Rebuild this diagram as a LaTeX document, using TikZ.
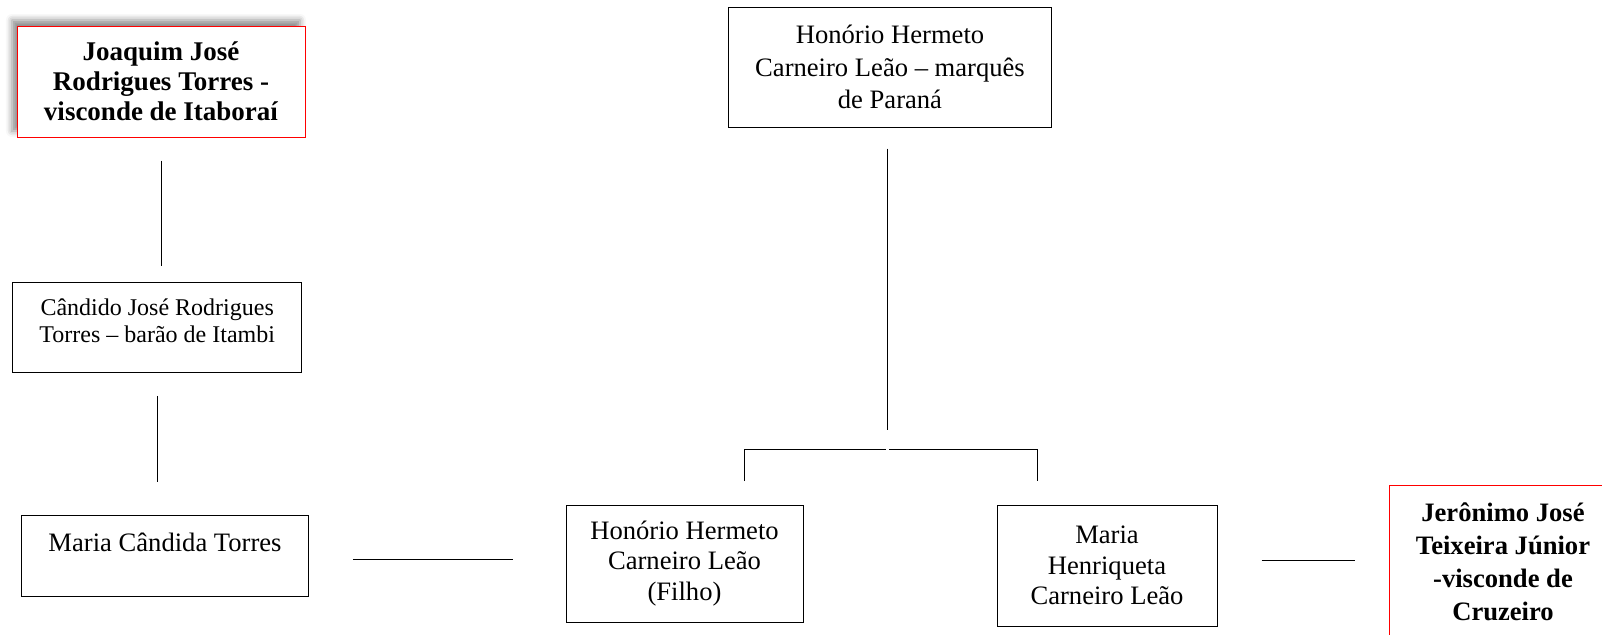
\documentclass[tikz,border=0pt]{standalone}
\usepackage{fontspec}
\setmainfont{Liberation Serif}
\usetikzlibrary{shadows.blur}

\begin{document}
\begin{tikzpicture}[x=0.5pt, y=-0.5pt,
	person/.style={draw, fill=white, line width=0.5pt, align=center, inner sep=0pt, font=\fontsize{13.3}{16.3}\selectfont},
	viscount/.style={person, draw=red, font=\fontsize{13.3}{16.5}\selectfont\bfseries},
	link/.style={line width=0.5pt}]
	\useasboundingbox (0,0) rectangle (1602,634);
	\clip (0,0) rectangle (1602,634);
		\node[viscount, font=\fontsize{13.5}{14.9}\selectfont\bfseries, minimum width=144pt, minimum height=55.5pt,
			blur shadow={shadow xshift=-2.5pt, shadow yshift=3pt, shadow blur radius=3pt, shadow opacity=45}] (itaborai) at (161,81.5) {Joaquim José\\Rodrigues Torres -\\visconde de Itaboraí};
		\node[person, font=\fontsize{12}{13.7}\selectfont, text depth=7pt, minimum width=144.5pt, minimum height=44.8pt] (itambi) at (157.2,327.5) {Cândido José Rodrigues\\Torres – barão de Itambi};
		\node[person, text depth=13pt, minimum width=143.3pt, minimum height=40.5pt] (mariacandida) at (165,555.5) {Maria Cândida Torres};
		\node[person, minimum width=161.25pt, minimum height=60pt] (parana) at (890,67) {Honório Hermeto\\Carneiro Leão – marquês\\de Paraná};
		\node[person, font=\fontsize{13.3}{15.4}\selectfont, minimum width=118.5pt, minimum height=58.5pt] (filho) at (684.5,563.5) {Honório Hermeto\\Carneiro Leão\\(Filho)};
		\node[person, font=\fontsize{13.3}{15.4}\selectfont, minimum width=110pt, minimum height=60.5pt] (henriqueta) at (1107,565.5) {Maria\\Henriqueta\\Carneiro Leão};
		\node[viscount, minimum width=114pt, minimum height=77pt] (cruzeiro) at (1503,562) {Jerônimo José\\Teixeira Júnior\\-visconde de\\Cruzeiro};
		\coordinate (fork) at (887.5,449);
		\coordinate (forkL) at (744,481);
		\coordinate (forkR) at (1037,481);
	%	family lines
		\draw[link, shorten <=11.5pt, shorten >=8pt] (itaborai.south) -- (itaborai.south |- itambi.north);
		\draw[link, shorten <=11.5pt, shorten >=16.5pt] (itambi.south) -- (itambi.south |- mariacandida.north);
		\draw[link, shorten <=22pt, shorten >=26.5pt] ([yshift=-1.75pt]mariacandida.east) -- ([yshift=-1.75pt]mariacandida.east -| filho.west);
		\draw[link, shorten <=22pt, shorten >=17pt] ([yshift=2.75pt]henriqueta.east) -- ([yshift=2.75pt]henriqueta.east -| cruzeiro.west);
		\draw[link, shorten <=10.5pt, shorten >=9.5pt] (fork |- parana.south) -- (fork);
		\draw[link] (forkL) |- ([xshift=-0.75pt]fork);
		\draw[link] ([xshift=0.75pt]fork) -| (forkR);
	\end{tikzpicture}
\end{document}
